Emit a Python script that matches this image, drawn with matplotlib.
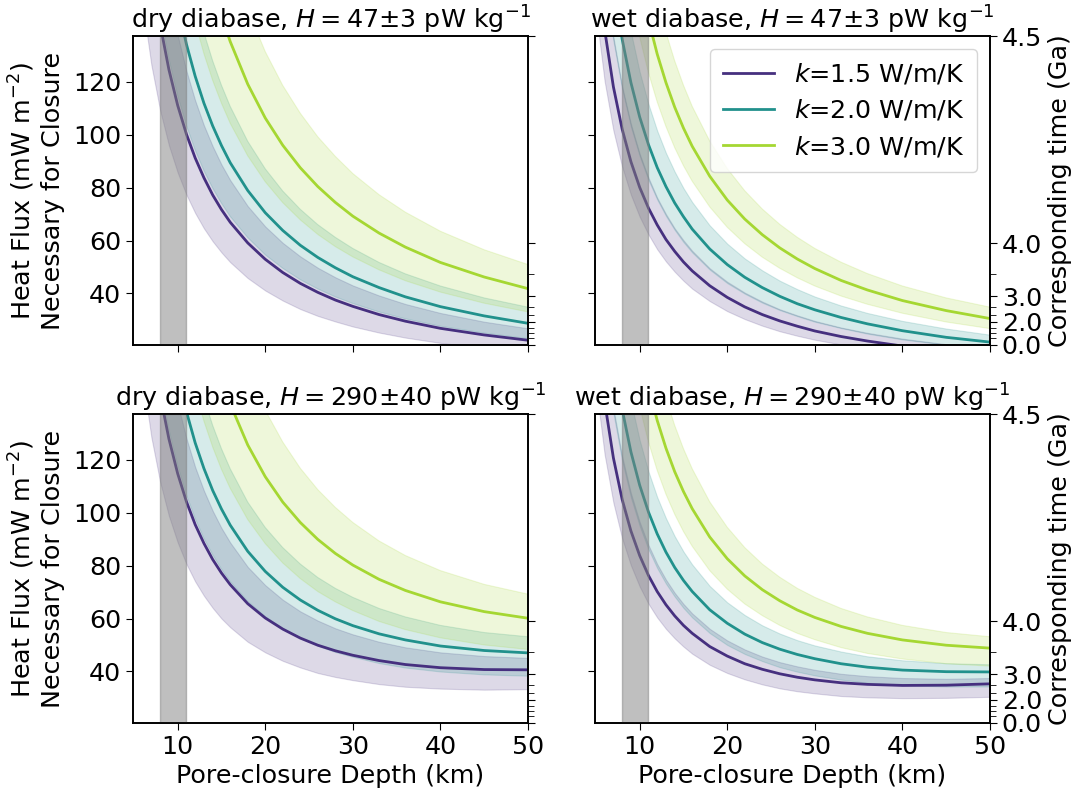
import matplotlib
matplotlib.use("Agg")
import matplotlib.pyplot as plt

# Pore-closure depth (km) at which each curve is sampled
depth_km = [5, 6, 7, 8, 9, 10, 11, 12, 13, 14, 15, 16, 18, 20, 22, 24, 26, 28, 30, 33, 36, 40, 45, 50]

conductivity = [1.5, 2.0, 3.0]
line_colors = ["#46307f", "#21918c", "#a5d732"]

# ---- dry diabase, H = 47 pW/kg (heat flux, mW/m^2) ----
dry47_k15 = [237.0, 194.1, 164.0, 141.7, 124.6, 111.1, 100.2, 91.2, 83.7, 77.2, 71.7, 66.9, 59.1, 52.9, 47.9, 43.8, 40.4, 37.5, 35.1, 32.0, 29.5, 26.8, 24.3, 22.3]
dry47_k15_lo = [182.5, 149.5, 126.3, 109.2, 96.0, 85.7, 77.3, 70.4, 64.6, 59.7, 55.5, 51.8, 45.8, 41.1, 37.3, 34.1, 31.5, 29.4, 27.5, 25.2, 23.3, 21.3, 19.4, 18.0]
dry47_k15_hi = [293.9, 240.6, 203.2, 175.6, 154.4, 137.6, 124.1, 112.9, 103.5, 95.6, 88.7, 82.8, 73.0, 65.3, 59.1, 54.0, 49.7, 46.1, 43.0, 39.2, 36.0, 32.6, 29.3, 26.8]
dry47_k20 = [317.9, 260.3, 219.8, 189.9, 166.9, 148.8, 134.2, 122.1, 111.9, 103.3, 95.9, 89.4, 78.9, 70.5, 63.8, 58.2, 53.6, 49.7, 46.3, 42.2, 38.7, 35.0, 31.5, 28.7]
dry47_k20_lo = [244.9, 200.5, 169.4, 146.4, 128.7, 114.8, 103.5, 94.2, 86.4, 79.8, 74.1, 69.1, 61.1, 54.6, 49.5, 45.2, 41.7, 38.7, 36.2, 33.0, 30.4, 27.6, 25.0, 22.9]
dry47_k20_hi = [394.2, 322.7, 272.5, 235.4, 206.9, 184.4, 166.2, 151.2, 138.6, 127.9, 118.7, 110.7, 97.5, 87.1, 78.7, 71.8, 66.0, 61.2, 57.0, 51.7, 47.4, 42.8, 38.3, 34.8]
dry47_k30 = [482.2, 394.7, 333.3, 287.9, 253.0, 225.5, 203.2, 184.8, 169.4, 156.2, 145.0, 135.2, 119.1, 106.3, 96.0, 87.5, 80.4, 74.4, 69.2, 62.8, 57.5, 51.7, 46.2, 41.8]
dry47_k30_lo = [371.4, 304.0, 256.8, 221.9, 194.9, 173.8, 156.6, 142.5, 130.6, 120.5, 111.9, 104.3, 92.0, 82.2, 74.3, 67.8, 62.3, 57.7, 53.8, 48.9, 44.8, 40.5, 36.3, 33.0]
dry47_k30_hi = [597.8, 489.3, 413.2, 356.9, 313.6, 279.4, 251.8, 228.9, 209.8, 193.5, 179.5, 167.3, 147.3, 131.4, 118.6, 108.1, 99.2, 91.8, 85.3, 77.3, 70.7, 63.5, 56.5, 50.9]

# ---- wet diabase, H = 47 pW/kg ----
wet47_k15 = [170.6, 139.7, 118.1, 102.1, 89.8, 80.1, 72.3, 65.9, 60.4, 55.9, 51.9, 48.5, 42.9, 38.5, 34.9, 32.0, 29.6, 27.6, 25.8, 23.7, 22.0, 20.1, 18.4, 17.0]
wet47_k15_lo = [146.8, 120.2, 101.6, 87.9, 77.3, 69.0, 62.3, 56.7, 52.1, 48.2, 44.8, 41.8, 37.1, 33.3, 30.3, 27.8, 25.7, 24.0, 22.5, 20.7, 19.2, 17.7, 16.2, 15.2]
wet47_k15_hi = [197.9, 162.0, 136.9, 118.3, 104.1, 92.8, 83.8, 76.2, 70.0, 64.6, 60.1, 56.1, 49.5, 44.4, 40.3, 36.9, 34.0, 31.7, 29.6, 27.1, 25.1, 22.9, 20.8, 19.2]
wet47_k20 = [227.6, 186.4, 157.5, 136.1, 119.7, 106.7, 96.3, 87.6, 80.4, 74.2, 69.0, 64.3, 56.8, 50.9, 46.1, 42.2, 38.9, 36.1, 33.8, 30.9, 28.5, 25.9, 23.4, 21.6]
wet47_k20_lo = [195.8, 160.4, 135.5, 117.2, 103.0, 91.9, 82.9, 75.5, 69.3, 64.0, 59.4, 55.5, 49.0, 43.9, 39.9, 36.5, 33.7, 31.4, 29.3, 26.9, 24.8, 22.6, 20.6, 19.0]
wet47_k20_hi = [264.1, 216.2, 182.7, 157.9, 138.8, 123.7, 111.6, 101.5, 93.1, 86.0, 79.8, 74.5, 65.7, 58.8, 53.2, 48.7, 44.8, 41.6, 38.8, 35.4, 32.6, 29.6, 26.7, 24.4]
wet47_k30 = [340.0, 278.4, 235.1, 203.2, 178.5, 159.2, 143.5, 130.5, 119.7, 110.4, 102.5, 95.6, 84.3, 75.3, 68.1, 62.2, 57.2, 53.0, 49.4, 44.9, 41.3, 37.3, 33.5, 30.5]
wet47_k30_lo = [292.5, 239.5, 202.3, 174.8, 153.7, 137.0, 123.5, 112.4, 103.1, 95.1, 88.3, 82.4, 72.7, 65.0, 58.8, 53.7, 49.5, 45.9, 42.8, 39.0, 35.9, 32.5, 29.2, 26.7]
wet47_k30_hi = [394.3, 322.8, 272.6, 235.6, 207.0, 184.5, 166.3, 151.3, 138.7, 127.9, 118.7, 110.7, 97.6, 87.2, 78.8, 71.9, 66.1, 61.2, 57.0, 51.8, 47.5, 42.8, 38.3, 34.8]

# ---- dry diabase, H = 290 pW/kg ----
dry290_k15 = [238.9, 196.3, 166.6, 144.6, 127.9, 114.8, 104.2, 95.5, 88.4, 82.3, 77.2, 72.8, 65.6, 60.2, 56.0, 52.6, 49.9, 47.8, 46.1, 44.1, 42.6, 41.4, 40.7, 40.6]
dry290_k15_lo = [184.1, 151.3, 128.5, 111.6, 98.8, 88.8, 80.6, 74.0, 68.6, 64.0, 60.0, 56.7, 51.2, 47.2, 44.0, 41.5, 39.4, 37.9, 36.7, 35.2, 34.2, 33.5, 33.1, 33.3]
dry290_k15_hi = [295.7, 242.8, 205.8, 178.6, 157.7, 141.3, 128.1, 117.2, 108.3, 100.7, 94.2, 88.7, 79.5, 72.6, 67.1, 62.7, 59.2, 56.3, 54.0, 51.2, 49.1, 47.2, 45.8, 45.1]
dry290_k20 = [319.7, 262.5, 222.4, 192.9, 170.2, 152.5, 138.2, 126.4, 116.7, 108.4, 101.4, 95.3, 85.4, 77.8, 71.8, 67.0, 63.1, 59.9, 57.3, 54.2, 51.9, 49.6, 47.9, 47.0]
dry290_k20_lo = [246.4, 202.3, 171.6, 148.8, 131.5, 117.9, 106.8, 97.8, 90.3, 84.1, 78.7, 74.0, 66.5, 60.7, 56.2, 52.6, 49.6, 47.2, 45.4, 43.0, 41.3, 39.8, 38.7, 38.2]
dry290_k20_hi = [396.0, 324.9, 275.1, 238.4, 210.2, 188.1, 170.2, 155.5, 143.3, 133.0, 124.2, 116.6, 104.0, 94.4, 86.8, 80.6, 75.5, 71.4, 68.0, 63.8, 60.6, 57.4, 54.7, 53.1]
dry290_k30 = [484.0, 396.9, 335.9, 290.9, 256.3, 229.2, 207.2, 189.1, 174.1, 161.3, 150.4, 141.1, 125.6, 113.6, 104.0, 96.3, 89.9, 84.6, 80.2, 74.8, 70.6, 66.3, 62.6, 60.1]
dry290_k30_lo = [372.9, 305.8, 259.0, 224.3, 197.7, 176.9, 159.9, 146.1, 134.6, 124.8, 116.4, 109.2, 97.4, 88.3, 81.0, 75.1, 70.2, 66.3, 63.0, 58.9, 55.8, 52.7, 50.0, 48.3]
dry290_k30_hi = [599.6, 491.5, 415.8, 359.8, 316.9, 283.1, 255.8, 233.3, 214.5, 198.6, 185.0, 173.2, 153.8, 138.7, 126.7, 116.8, 108.7, 102.0, 96.3, 89.3, 83.8, 78.1, 72.9, 69.2]

# ---- wet diabase, H = 290 pW/kg ----
wet290_k15 = [172.5, 141.9, 120.7, 105.0, 93.1, 83.8, 76.3, 70.2, 65.2, 61.0, 57.4, 54.4, 49.4, 45.8, 42.9, 40.8, 39.1, 37.8, 36.8, 35.7, 35.1, 34.7, 34.8, 35.3]
wet290_k15_lo = [148.3, 122.0, 103.8, 90.3, 80.1, 72.1, 65.6, 60.4, 56.1, 52.5, 49.4, 46.7, 42.5, 39.4, 37.0, 35.1, 33.6, 32.5, 31.7, 30.7, 30.2, 29.9, 30.0, 30.4]
wet290_k15_hi = [199.7, 164.2, 139.5, 121.3, 107.4, 96.5, 87.8, 80.6, 74.7, 69.7, 65.5, 61.9, 56.1, 51.7, 48.3, 45.6, 43.5, 41.9, 40.6, 39.1, 38.2, 37.5, 37.2, 37.5]
wet290_k20 = [229.5, 188.6, 160.1, 139.1, 123.0, 110.4, 100.3, 92.0, 85.1, 79.3, 74.4, 70.2, 63.3, 58.2, 54.1, 50.9, 48.4, 46.4, 44.8, 42.9, 41.6, 40.5, 39.9, 39.8]
wet290_k20_lo = [197.4, 162.2, 137.7, 119.6, 105.8, 95.0, 86.2, 79.1, 73.2, 68.3, 64.0, 60.4, 54.5, 50.0, 46.6, 43.9, 41.6, 39.9, 38.5, 36.9, 35.7, 34.8, 34.3, 34.3]
wet290_k20_hi = [265.9, 218.4, 185.3, 160.8, 142.1, 127.4, 115.6, 105.9, 97.9, 91.1, 85.3, 80.4, 72.3, 66.1, 61.3, 57.4, 54.3, 51.8, 49.8, 47.5, 45.7, 44.2, 43.1, 42.7]
wet290_k30 = [341.9, 280.6, 237.7, 206.1, 181.8, 162.9, 147.5, 134.9, 124.4, 115.5, 108.0, 101.5, 90.8, 82.6, 76.1, 70.9, 66.7, 63.2, 60.4, 57.0, 54.4, 51.9, 49.9, 48.8]
wet290_k30_lo = [294.1, 241.3, 204.5, 177.2, 156.5, 140.1, 126.8, 116.0, 107.0, 99.4, 92.9, 87.3, 78.1, 71.1, 65.5, 61.1, 57.4, 54.4, 52.0, 49.0, 46.8, 44.7, 42.9, 42.0]
wet290_k30_hi = [396.2, 325.0, 275.2, 238.5, 210.3, 188.2, 170.3, 155.6, 143.4, 133.0, 124.2, 116.6, 104.1, 94.5, 86.8, 80.6, 75.6, 71.4, 68.0, 63.8, 60.6, 57.4, 54.7, 53.1]

# Right-hand axis: heat flux values that correspond to given ages (Ga)
time_labels = ["0.0", "2.0", "3.0", "4.0", "4.5"]
time_flux = [20.5, 29.3, 39.0, 58.9, 137.3]
time_minor_flux = [23.0, 24.9, 27.0, 31.8, 34.9, 47.2]

flux_range = (20.5, 137.3)
depth_range = (4.9, 50)
closure_zone = (8, 11)

titles = [
    [r"dry diabase, $H=47$±3 pW kg$^{-1}$", r"wet diabase, $H=47$±3 pW kg$^{-1}$"],
    [r"dry diabase, $H=290$±40 pW kg$^{-1}$", r"wet diabase, $H=290$±40 pW kg$^{-1}$"],
]
panel_data = [
    [
        [(dry47_k15, dry47_k15_lo, dry47_k15_hi), (dry47_k20, dry47_k20_lo, dry47_k20_hi), (dry47_k30, dry47_k30_lo, dry47_k30_hi)],
        [(wet47_k15, wet47_k15_lo, wet47_k15_hi), (wet47_k20, wet47_k20_lo, wet47_k20_hi), (wet47_k30, wet47_k30_lo, wet47_k30_hi)],
    ],
    [
        [(dry290_k15, dry290_k15_lo, dry290_k15_hi), (dry290_k20, dry290_k20_lo, dry290_k20_hi), (dry290_k30, dry290_k30_lo, dry290_k30_hi)],
        [(wet290_k15, wet290_k15_lo, wet290_k15_hi), (wet290_k20, wet290_k20_lo, wet290_k20_hi), (wet290_k30, wet290_k30_lo, wet290_k30_hi)],
    ],
]

FS = 18.3
plt.rcParams.update({
    "font.family": ["DejaVu Sans"],
    "font.size": FS,
    "axes.linewidth": 1.2,
    "xtick.major.size": 5, "ytick.major.size": 5,
    "ytick.minor.size": 4,
})

fig = plt.figure(figsize=(10.81, 7.95), dpi=100)
W, H = 1081.0, 795.0
col_x = [133, 595]
row_top = [36, 414]
ax_w, ax_h = 395, 309

axes = [[None, None], [None, None]]
for r in range(2):
    for c in range(2):
        rect = [col_x[c] / W, 1 - (row_top[r] + ax_h) / H, ax_w / W, ax_h / H]
        ax = fig.add_axes(rect)
        axes[r][c] = ax
        for (mid, lo, hi), kval, col in zip(panel_data[r][c], conductivity, line_colors):
            ax.fill_between(depth_km, lo, hi, color=col, alpha=0.18, linewidth=0.8)
            ax.plot(depth_km, mid, color=col, lw=2.0, solid_joinstyle="round",
                    label=rf"$k$={kval:.1f} W/m/K")
        ax.axvspan(*closure_zone, color="gray", alpha=0.5, zorder=3)
        ax.set_xlim(*depth_range)
        ax.set_ylim(*flux_range)
        ax.set_xticks([10, 20, 30, 40, 50])
        ax.set_yticks([40, 60, 80, 100, 120])
        ax.set_title(titles[r][c], fontsize=FS, pad=5)
        if c == 0:
            ax.set_ylabel("Heat Flux (mW m$^{-2}$)\nNecessary for Closure", fontsize=FS, labelpad=6)
        else:
            ax.set_yticklabels([])
        if r == 1:
            ax.set_xlabel("Pore-closure Depth (km)", fontsize=FS, labelpad=4)
        else:
            ax.set_xticklabels([])

        tax = ax.twinx()
        tax.set_ylim(*flux_range)
        tax.set_yticks(time_flux)
        tax.set_yticks(time_minor_flux, minor=True)
        if c == 1:
            tax.set_yticklabels(time_labels)
            tax.set_ylabel("Corresponding time (Ga)", fontsize=FS)
        else:
            tax.set_yticklabels([])

axes[0][1].legend(loc="upper right", fontsize=FS, handlelength=2.0,
                  borderpad=0.5, labelspacing=0.45, framealpha=0.8)

fig.savefig("out.png", dpi=100)
